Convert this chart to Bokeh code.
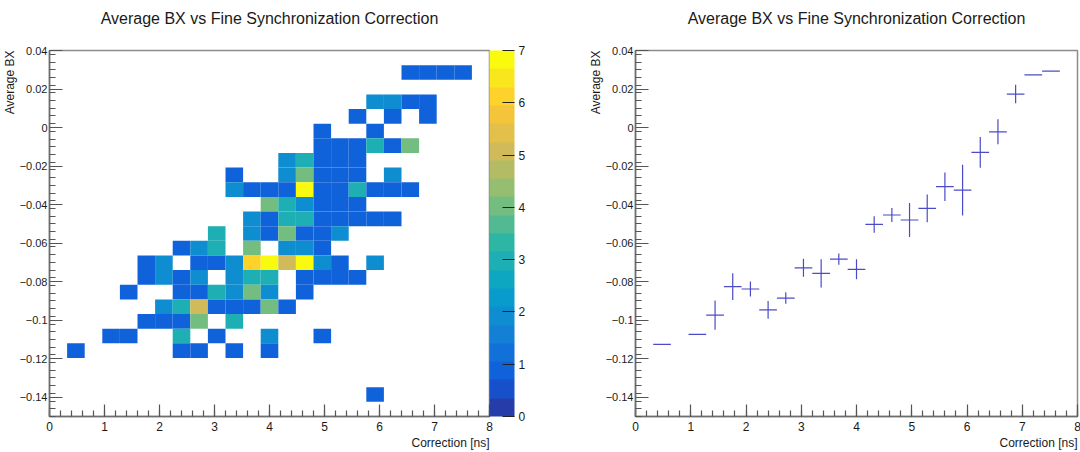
import numpy as np
from bokeh.plotting import figure
from bokeh.models import (ColumnDataSource, LinearColorMapper, ColorBar, FixedTicker, Title)
from bokeh.layouts import row
from bokeh.embed import file_html
from bokeh.resources import INLINE

# ---------------- data ----------------
title_text = "Average BX vs Fine Synchronization Correction"
x_label = "Correction [ns]"
y_label = "Average BX"

n_xbins, x_lo, x_hi = 25, 0.0, 8.0
n_ybins, y_lo, y_hi = 25, -0.15, 0.04

# 2D histogram: filled cells (x bin index, y bin index from bottom, entries)
cell_ix = [20, 21, 22, 23,
           18, 19, 20, 21,
           17, 19, 21,
           15, 18,
           15, 16, 17, 18, 19, 20,
           13, 14, 15, 16, 17,
           10, 13, 14, 15, 16, 17, 19,
           10, 11, 12, 13, 14, 15, 16, 17, 18, 19, 20,
           12, 13, 14, 15, 16, 17,
           11, 12, 13, 14, 15, 16, 17, 18, 19,
           9, 11, 12, 13, 14, 15, 16,
           7, 8, 9, 11, 13, 14, 15,
           5, 6, 8, 9, 10, 11, 12, 13, 14, 15, 16, 18,
           5, 6, 7, 8, 10, 11, 12, 14, 15, 16, 17,
           4, 7, 8, 9, 10, 11, 12, 14,
           6, 7, 8, 9, 10, 11, 12, 13,
           5, 6, 7, 8, 10,
           3, 4, 7, 9, 12, 15,
           1, 7, 8, 10, 12,
           18]
cell_iy = ([23] * 4 + [21] * 4 + [20] * 3 + [19] * 2 + [18] * 6 + [17] * 5 + [16] * 7 +
           [15] * 11 + [14] * 6 + [13] * 9 + [12] * 7 + [11] * 7 + [10] * 12 + [9] * 11 +
           [8] * 8 + [7] * 8 + [6] * 5 + [5] * 6 + [4] * 5 + [1] * 1)
cell_count = [1, 1, 1, 1,
              2, 2, 1, 1,
              1, 1, 1,
              1, 1,
              1, 1, 1, 3, 1, 4,
              2, 3, 1, 1, 1,
              1, 2, 4, 1, 1, 1, 2,
              2, 1, 1, 1, 7, 1, 1, 3, 1, 1, 1,
              4, 3, 2, 1, 1, 1,
              2, 1, 3, 3, 1, 1, 1, 1, 1,
              3, 2, 1, 4, 1, 1, 2,
              1, 2, 3, 4, 2, 2, 1,
              1, 2, 1, 1, 2, 6, 7, 5, 7, 2, 1, 2,
              1, 2, 1, 2, 2, 3, 3, 1, 1, 1, 1,
              1, 1, 1, 3, 2, 4, 2, 1,
              2, 3, 5, 1, 1, 1, 4, 1,
              1, 1, 1, 4, 3,
              1, 1, 3, 1, 2, 1,
              1, 1, 1, 1, 1,
              1]

# Profile (x bin index, mean, error on mean)
prof_ix = [1, 3, 4, 5, 6, 7, 8, 9, 10, 11, 12, 13, 14, 15, 16, 17, 18, 19, 20, 21, 22, 23]
prof_mean = [-0.1126, -0.1074, -0.0974, -0.0826, -0.0838, -0.0947, -0.0885, -0.0728,
             -0.0757, -0.0683, -0.0736, -0.0503, -0.0454, -0.0480, -0.0420, -0.0307,
             -0.0325, -0.0129, -0.0022, 0.0174, 0.0273, 0.0293]
prof_err = [0.0, 0.0, 0.0076, 0.0069, 0.0039, 0.0046, 0.0030, 0.0047, 0.0073, 0.0029,
            0.0052, 0.0043, 0.0036, 0.0088, 0.0072, 0.0074, 0.0132, 0.0080, 0.0065,
            0.0048, 0.0, 0.0]

x_ticks = [0, 1, 2, 3, 4, 5, 6, 7, 8]
y_ticks = [-0.14, -0.12, -0.1, -0.08, -0.06, -0.04, -0.02, 0.0, 0.02, 0.04]
y_tick_labels = ["\u22120.14", "\u22120.12", "\u22120.1", "\u22120.08", "\u22120.06",
                 "\u22120.04", "\u22120.02", "0", "0.02", "0.04"]
z_ticks = [0, 1, 2, 3, 4, 5, 6, 7]
z_lo, z_hi = 0, 7

# ---------------- style ----------------
FONT = "Liberation Sans"
TXT = "#1a1a1a"


def bird(t):
    r = [0.2082, 0.0592, 0.0780, 0.0232, 0.1802, 0.5301, 0.8186, 0.9956, 0.9764]
    g = [0.1664, 0.3599, 0.5041, 0.6419, 0.7178, 0.7492, 0.7328, 0.7862, 0.9832]
    b = [0.5293, 0.8684, 0.8385, 0.7914, 0.6425, 0.4662, 0.3499, 0.1968, 0.0539]
    s = np.linspace(0, 1, 9)
    t = min(max(t, 0.0), 1.0)
    rr, gg, bb = (np.interp(t, s, c) for c in (r, g, b))
    return "#%02x%02x%02x" % (int(rr * 255), int(gg * 255), int(bb * 255))


NCONT = 20
palette = [bird((k + 0.99) / NCONT) for k in range(NCONT)]

dx = (x_hi - x_lo) / n_xbins
dy = (y_hi - y_lo) / n_ybins

x_minor = [round(v, 3) for v in np.arange(x_lo, x_hi + 1e-9, 0.2)]
y_minor = [round(v, 4) for v in np.arange(y_lo, y_hi + 1e-9, 0.004)]


def make_fig(left, right, frame_w):
    p = figure(frame_width=frame_w, frame_height=366,
               x_range=(x_lo, x_hi), y_range=(y_lo, y_hi),
               min_border_left=left, min_border_right=right,
               min_border_top=50, min_border_bottom=36,
               output_backend="svg", toolbar_location=None)
    # the figure title is stacked outermost; a blank spacer sits between it and the frame
    p.title = Title(text=title_text, align="center",
                    text_font=FONT, text_font_size="16px", text_font_style="normal",
                    text_color=TXT, standoff=0)
    p.add_layout(Title(text=" ", text_font=FONT, text_font_size="20px", standoff=0),
                 "above")
    p.grid.visible = False
    p.outline_line_color = "#8c8c8c"
    p.outline_line_width = 1.5
    p.background_fill_color = "white"
    p.border_fill_color = "white"
    for ax in (p.xaxis[0], p.yaxis[0]):
        ax.major_tick_out = 0
        ax.minor_tick_out = 0
        ax.axis_line_color = "#6e6e6e"
        ax.axis_line_width = 1.5
        ax.major_tick_line_color = "#555555"
        ax.minor_tick_line_color = "#555555"
        ax.major_tick_line_width = 1.2
        ax.minor_tick_line_width = 1.2
        ax.major_label_text_font = FONT
        ax.major_label_text_color = TXT
    p.xaxis.major_label_text_font_size = "12px"
    p.yaxis.major_label_text_font_size = "11px"
    p.xaxis.major_tick_in = 12
    p.xaxis.minor_tick_in = 6
    p.yaxis.major_tick_in = 13
    p.yaxis.minor_tick_in = 6
    p.xaxis.ticker = FixedTicker(ticks=x_ticks, minor_ticks=x_minor)
    p.yaxis.ticker = FixedTicker(ticks=y_ticks, minor_ticks=y_minor)
    p.yaxis.major_label_overrides = {t: l for t, l in zip(y_ticks, y_tick_labels)}
    p.xaxis.major_label_standoff = 5
    p.yaxis.major_label_standoff = 2
    p.add_layout(Title(text=y_label, align="right", text_font=FONT,
                       text_font_size="12px", text_font_style="normal",
                       text_line_height=0.9, text_color=TXT, standoff=0), "left")
    p.add_layout(Title(text=x_label, align="right", text_font=FONT,
                       text_font_size="12px", text_font_style="normal",
                       text_color=TXT, standoff=0), "below")
    return p


# ---------------- left: 2D histogram ----------------
p1 = make_fig(48, 72, 440)
ix = np.array(cell_ix)
iy = np.array(cell_iy)
src = ColumnDataSource(dict(x=x_lo + (ix + 0.5) * dx, y=y_lo + (iy + 0.5) * dy,
                            z=cell_count))
mapper = LinearColorMapper(palette=palette, low=z_lo, high=z_hi)
p1.rect(x="x", y="y", width=dx, height=dy, source=src,
        fill_color={"field": "z", "transform": mapper}, line_color=None)
cb = ColorBar(color_mapper=mapper, ticker=FixedTicker(ticks=z_ticks),
              width=25, height=366, padding=0, margin=2,
              major_tick_in=12, major_tick_out=0, major_tick_line_color="#222222",
              major_tick_line_width=1.2, minor_tick_line_color=None,
              bar_line_color=None, border_line_color=None,
              background_fill_color=None, label_standoff=4,
              major_label_text_font=FONT, major_label_text_font_size="12px",
              major_label_text_color=TXT)
p1.add_layout(cb, "right")

# ---------------- right: profile ----------------
p2 = make_fig(74, 4, 442)
pix = np.array(prof_ix)
pm = np.array(prof_mean)
pe = np.array(prof_err)
pxc = x_lo + (pix + 0.5) * dx
psrc = ColumnDataSource(dict(x0=pxc - dx / 2, x1=pxc + dx / 2, xc=pxc, y=pm,
                             ylo=pm - pe, yhi=pm + pe))
PROF = "#4b4bc8"
p2.segment(x0="x0", y0="y", x1="x1", y1="y", source=psrc, line_color=PROF, line_width=1.2)
p2.segment(x0="xc", y0="ylo", x1="xc", y1="yhi", source=psrc, line_color=PROF,
           line_width=1.2)

layout = row(p1, p2)
open("out.html", "w").write(file_html(layout, INLINE))
